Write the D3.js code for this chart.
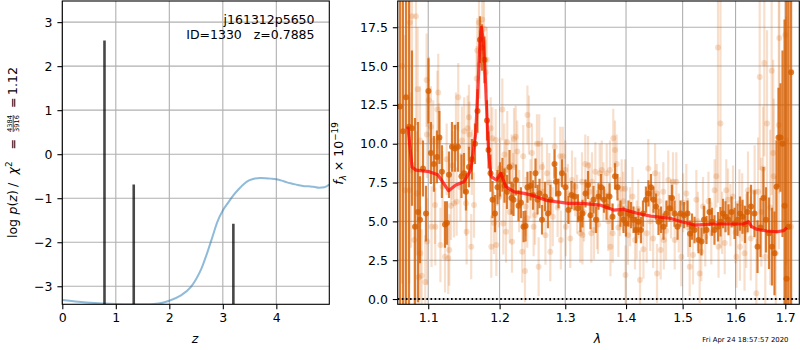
<!DOCTYPE html>
<html>
<head>
<meta charset="utf-8">
<script src="https://cdn.jsdelivr.net/npm/d3@7"></script>
<style>
  body { margin: 0; background: #fff; }
  svg { display: block; }
  text { font-family: "DejaVu Sans", sans-serif; }
</style>
</head>
<body>
<svg id="chart" width="800" height="350"></svg>
<script>
// ---------- redshift probability panel ----------
const zGrid = [0, 0.3, 0.6, 0.9, 1.2, 1.5, 1.8, 2.0, 2.2, 2.4, 2.5, 2.6, 2.7, 2.8, 2.9, 3.0, 3.1, 3.2, 3.3, 3.4, 3.5, 3.6, 3.7, 3.8, 3.9, 4.0, 4.1, 4.2, 4.3, 4.4, 4.5, 4.6, 4.7, 4.8, 4.9, 4.99];
const logPz = [-3.31, -3.35, -3.38, -3.40, -3.41, -3.41, -3.39, -3.33, -3.22, -3.02, -2.84, -2.60, -2.27, -1.90, -1.53, -1.28, -1.10, -0.93, -0.79, -0.67, -0.59, -0.55, -0.54, -0.545, -0.555, -0.57, -0.60, -0.64, -0.67, -0.70, -0.72, -0.73, -0.74, -0.76, -0.75, -0.69];
const peakZ = [0.7885, 1.335, 3.197];
const peakTop = [2.58, -0.69, -1.58];
const leftXTicks = [0, 1, 2, 3, 4];
const leftYTicks = [-3, -2, -1, 0, 1, 2, 3];

// ---------- spectrum panel ----------
// binned (drizzled) spectrum
const darkWave = [1.0627, 1.0666, 1.0706, 1.0745, 1.0784, 1.0824, 1.0863, 1.0890, 1.0930, 1.0970,
  1.1003, 1.1036, 1.1077, 1.1117, 1.1151, 1.1185, 1.1227, 1.1254, 1.1282, 1.1323,
  1.1364, 1.1406, 1.1455, 1.1490, 1.1518, 1.1560, 1.1602, 1.1645, 1.1681, 1.1716,
  1.1745, 1.1781, 1.1817, 1.1839, 1.1868, 1.1897, 1.1933, 1.1969, 1.2006, 1.2042,
  1.2072, 1.2109, 1.2146, 1.2175, 1.2205, 1.2242, 1.2280, 1.2317, 1.2355, 1.2385,
  1.2415, 1.2461, 1.2499, 1.2537, 1.2568, 1.2598, 1.2637, 1.2683, 1.2729, 1.2768,
  1.2831, 1.2854, 1.2894, 1.2948, 1.3003, 1.3051, 1.3099, 1.3147, 1.3203, 1.3244,
  1.3276, 1.3325, 1.3366, 1.3406, 1.3455, 1.3497, 1.3538, 1.3580, 1.3629, 1.3671,
  1.3721, 1.3771, 1.3813, 1.3855, 1.3906, 1.3957, 1.3999, 1.4042, 1.4085, 1.4128,
  1.4171, 1.4214, 1.4257, 1.4292, 1.4344, 1.4388, 1.4432, 1.4476, 1.4521, 1.4565,
  1.4610, 1.4654, 1.4708, 1.4762, 1.4807, 1.4853, 1.4907, 1.4961, 1.5025, 1.5089,
  1.5135, 1.5172, 1.5219, 1.5293, 1.5349, 1.5396, 1.5443, 1.5500, 1.5547, 1.5594,
  1.5661, 1.5709, 1.5757, 1.5805, 1.5863, 1.5922, 1.5980, 1.6038, 1.6087, 1.6136,
  1.6185, 1.6235, 1.6304, 1.6374, 1.6434, 1.6494, 1.6554, 1.6605, 1.6666, 1.6727,
  1.6778, 1.6819, 1.6860, 1.6901, 1.6943, 1.6985, 1.7027, 1.7069, 1.7121];
const darkFlux = [12.4, 10.8, 13.0, 11.1, 11.0, 4.66, 5.6, 5.1, 8.4, 5.5,
  13.4, 9.4, 8.7, 9.15, 10.4, 8.2, 4.8, 4.9, 8.0, 9.8,
  9.7, 9.8, 7.9, 8.1, 6.9, 8.5, 9.0, 10.0, 12.1, 16.7,
  16.2, 15.4, 11.5, 9.6, 8.1, 6.4, 5.5, 7.2, 7.7, 8.0,
  7.3, 6.9, 8.5, 6.5, 6.4, 7.66, 6.0, 6.2, 4.66, 4.7,
  7.2, 7.3, 6.7, 8.1, 6.4, 6.8, 5.1, 6.6, 5.5, 6.4,
  8.7, 7.55, 6.8, 8.1, 7.2, 5.73, 6.7, 6.6, 5.84, 5.2,
  5.5, 6.8, 7.34, 5.4, 6.4, 5.1, 6.6, 7.2, 6.4, 5.95,
  6.6, 5.3, 7.9, 7.2, 5.5, 5.1, 4.87, 5.5, 5.4, 5.1,
  4.44, 4.98, 4.44, 5.5, 6.4, 6.8, 7.2, 6.4, 5.95, 4.98,
  5.1, 4.66, 5.5, 5.84, 6.5, 5.5, 4.66, 5.5, 5.4, 5.5,
  4.2, 4.66, 4.44, 3.8, 3.7, 5.1, 4.44, 5.6, 4.98, 4.44,
  4.66, 4.98, 5.5, 5.3, 5.1, 5.6, 4.87, 5.1, 5.5, 5.3,
  4.8, 5.6, 5.95, 5.5, 3.37, 4.6, 6.5, 5.1, 4.23, 3.37,
  2.94, 7.23, 10.4, 10.4, 10.0, 6.0, 1.3, 4.66, 14.6];
const darkErr = [14, 11.5, 13.5, 11.5, 5.0, 7.0, 5.8, 2.8, 1.8, 1.8,
  2.1, 2.0, 1.8, 1.7, 1.7, 1.7, 1.5, 1.4, 1.5, 1.6,
  1.5, 1.6, 1.4, 1.3, 1.2, 1.3, 1.3, 1.3, 1.4, 1.5,
  1.5, 1.5, 1.3, 1.2, 1.2, 1.2, 1.2, 1.1, 1.1, 1.1,
  1.1, 1.1, 1.1, 1.05, 1.05, 1.0, 1.0, 1.0, 1.0, 1.0,
  1.0, 0.95, 0.95, 0.95, 0.95, 0.95, 0.95, 0.95, 0.95, 0.95,
  0.95, 0.95, 0.95, 0.9, 0.9, 0.9, 0.9, 0.9, 0.9, 0.9,
  0.9, 0.9, 0.9, 0.9, 0.9, 0.85, 0.85, 0.85, 0.85, 0.85,
  0.85, 0.85, 0.85, 0.85, 0.85, 0.85, 0.85, 0.85, 0.85, 0.85,
  0.85, 0.85, 0.85, 0.85, 0.85, 0.85, 0.85, 0.85, 0.85, 0.85,
  0.85, 0.85, 0.85, 0.85, 0.85, 0.85, 0.85, 0.85, 0.85, 0.85,
  0.85, 0.85, 0.85, 0.85, 0.9, 0.9, 0.9, 0.9, 0.9, 0.95,
  0.95, 0.95, 0.95, 1.0, 1.0, 1.0, 1.0, 1.05, 1.1, 1.1,
  1.2, 1.3, 1.4, 1.5, 1.7, 1.9, 2.0, 2.1, 2.3, 2.5,
  2.7, 3.0, 3.2, 3.5, 6.0, 12.0, 20.0, 15.0, 20.0];

// individual exposures
const lightWave = [1.0653, 1.0692, 1.0749, 1.0758, 1.0771, 1.0784, 1.0814, 1.0837, 1.0846, 1.0859,
  1.0873, 1.0890, 1.0894, 1.0912, 1.0960, 1.0978, 1.0986, 1.0982, 1.1008, 1.1036,
  1.1045, 1.1067, 1.1091, 1.1095, 1.1124, 1.1135, 1.1148, 1.1165, 1.1194, 1.1227,
  1.1272, 1.1286, 1.1309, 1.1350, 1.1378, 1.1387, 1.1410, 1.1462, 1.1494, 1.1518,
  1.1527, 1.1541, 1.1560, 1.1567, 1.1592, 1.1631, 1.1669, 1.1678, 1.1702, 1.1709,
  1.1749, 1.1773, 1.1798, 1.1813, 1.1870, 1.1879, 1.1894, 1.1918, 1.1943, 1.1952,
  1.1967, 1.2006, 1.2040, 1.2054, 1.2089, 1.2094, 1.2113, 1.2178, 1.2183, 1.2213,
  1.2238, 1.2261, 1.2336, 1.2351, 1.2377, 1.2387, 1.2411, 1.2414, 1.2437, 1.2483,
  1.2508, 1.2559, 1.2585, 1.2594, 1.2637, 1.2714, 1.2765, 1.2803, 1.2834, 1.2922,
  1.2930, 1.2960, 1.3001, 1.3009, 1.3107, 1.3160, 1.3241, 1.3268, 1.3276, 1.3321,
  1.3366, 1.3420, 1.3431, 1.3464, 1.3486, 1.3514, 1.3558, 1.3591, 1.3674, 1.3729,
  1.3737, 1.3774, 1.3784, 1.3813, 1.3841, 1.3897, 1.3926, 1.3982, 1.3991, 1.4068,
  1.4154, 1.4183, 1.4240, 1.4357, 1.4385, 1.4504, 1.4534, 1.4539, 1.4604, 1.4651,
  1.4660, 1.4740, 1.4825, 1.4856, 1.4885, 1.4976, 1.5068, 1.5130, 1.5191, 1.5253,
  1.5315, 1.5345, 1.5377, 1.5533, 1.5597, 1.5630, 1.5661, 1.5671, 1.5709, 1.5820,
  1.5853, 1.5951, 1.6017, 1.6076, 1.6086, 1.6176, 1.6244, 1.6377, 1.6411, 1.6446,
  1.6478, 1.6547, 1.6571, 1.6590, 1.6625, 1.6720, 1.6751, 1.6761, 1.6804, 1.6866,
  1.6877, 1.7001, 1.7017, 1.7119,
  1.1250, 1.1330, 1.1440, 1.1600, 1.1990, 1.2070, 1.2150, 1.2200, 1.2290, 1.2460,
  1.2530, 1.2650, 1.2690, 1.2750, 1.2880, 1.3040, 1.3080, 1.3190, 1.3300, 1.3390,
  1.3530, 1.3620, 1.3700, 1.3870, 1.3950, 1.4030, 1.4110, 1.4210, 1.4300, 1.4420,
  1.4470, 1.4580, 1.4700, 1.4790, 1.4930, 1.5010, 1.5100, 1.5280, 1.5420, 1.5480,
  1.5740, 1.5790, 1.5900, 1.6000, 1.6130, 1.6210, 1.6300, 1.6510, 1.6690];
const lightFlux = [15.0, 7.0, 7.0, 17.8, 8.3, 18.2, 3.8, 18.2, 6.8, 13.5,
  1.4, 10.2, 2.94, 1.5, 1.1, 14.1, 3.7, 10.6, 12.8, 11.1,
  4.66, 10.2, 6.05, 4.66, 12.2, 13.3, 10.2, 3.48, 7.23, 2.72,
  2.62, 3.16, 6.0, 6.16, 11.1, 6.27, 13.0, 10.2, 10.8, 6.16,
  4.33, 11.0, 11.7, 10.6, 3.37, 6.05, 14.2, 16.0, 17.8, 15.1,
  18.0, 17.4, 14.6, 15.4, 11.0, 3.37, 10.35, 4.9, 10.24, 3.48,
  8.0, 8.4, 12.2, 4.87, 8.3, 4.33, 10.1, 8.6, 3.69, 10.3,
  10.45, 9.5, 3.05, 9.2, 1.8, 5.95, 5.2, 11.85, 11.2, 9.4,
  4.66, 10.0, 2.08, 10.0, 8.5, 8.1, 3.05, 5.3, 9.8, 9.2,
  3.8, 9.2, 8.3, 4.66, 7.66, 7.23, 4.23, 7.55, 4.12, 8.7,
  8.6, 4.23, 7.55, 4.44, 8.2, 5.1, 8.1, 8.3, 8.1, 8.3,
  3.37, 4.23, 10.35, 9.6, 8.7, 5.95, 7.1, 7.1, 1.55, 5.3,
  3.8, 4.44, 1.22, 4.23, 8.4, 8.1, 6.8, 1.65, 3.16, 6.9,
  3.8, 7.66, 7.55, 3.8, 7.55, 2.72, 6.8, 2.08, 2.83, 6.4,
  1.65, 3.05, 5.95, 4.23, 7.0, 7.9, 16.2, 3.37, 11.3, 7.0,
  6.4, 6.6, 2.72, 6.16, 3.37, 2.94, 7.0, 6.9, 0.37, 6.9,
  14.3, 8.4, 15.2, 2.72, 11.3, 14.7, 9.4, 7.9, 2.94, 11.2,
  16.8, 17.0, 10.2, 4.66,
  9.0, 8.6, 7.2, 8.8, 6.6, 9.3, 5.6, 7.4, 6.3, 7.1,
  5.4, 6.9, 4.1, 7.5, 5.9, 6.8, 3.9, 6.1, 5.6, 6.9,
  4.8, 6.9, 5.0, 4.6, 6.3, 4.1, 6.6, 5.8, 3.2, 5.0,
  3.9, 6.3, 4.4, 5.8, 4.9, 6.2, 4.6, 5.0, 4.0, 6.3,
  4.9, 3.6, 5.4, 4.3, 5.9, 4.4, 3.9, 5.6, 5.9];
const lightErr = [14, 10, 6, 8, 5, 8, 5, 7, 4, 4,
  3.5, 3.5, 3, 3, 3, 3, 2.8, 2.8, 2.8, 2.6,
  2.6, 2.6, 2.5, 2.5, 2.5, 2.5, 2.4, 2.4, 2.3, 2.3,
  2.3, 2.3, 2.2, 2.2, 2.2, 2.2, 2.2, 2.2, 2.2, 2.1,
  2.1, 2.1, 2.1, 2.1, 2.1, 2.1, 2.1, 2.1, 2.2, 2.2,
  2.2, 2.2, 2.1, 2.1, 2.0, 2.0, 2.0, 2.0, 2.0, 2.0,
  2.0, 2.0, 2.0, 2.0, 2.0, 2.0, 2.0, 2.0, 2.0, 2.0,
  2.0, 2.0, 2.0, 2.0, 2.0, 1.9, 1.9, 1.9, 1.9, 1.9,
  1.9, 1.9, 1.9, 1.9, 1.9, 1.9, 1.9, 1.9, 1.9, 1.9,
  1.9, 1.9, 1.9, 1.9, 1.9, 1.9, 1.9, 1.9, 1.9, 1.9,
  1.9, 1.9, 1.9, 1.9, 1.9, 1.9, 1.9, 1.9, 1.9, 1.9,
  1.9, 1.9, 1.9, 1.9, 1.9, 1.9, 1.9, 1.9, 1.9, 1.9,
  1.9, 1.9, 1.9, 1.9, 1.9, 1.9, 1.9, 1.9, 1.9, 1.9,
  1.9, 1.9, 1.9, 1.9, 1.9, 1.9, 1.9, 1.9, 1.9, 1.9,
  1.9, 1.9, 1.9, 2.0, 2.0, 2.0, 10, 2.0, 8, 2.0,
  2.0, 2.0, 2.0, 2.2, 2.2, 2.4, 2.5, 3, 3.5, 3.5,
  6, 4, 6, 4, 6, 8, 6, 5, 5, 8,
  10, 12, 8, 10,
  2.3, 2.2, 2.2, 2.1, 2.0, 2.0, 2.0, 2.0, 2.0, 1.9,
  1.9, 1.9, 1.9, 1.9, 1.9, 1.9, 1.9, 1.9, 1.9, 1.9,
  1.9, 1.9, 1.9, 1.9, 1.9, 1.9, 1.9, 1.9, 1.9, 1.9,
  1.9, 1.9, 1.9, 1.9, 1.9, 1.9, 1.9, 1.9, 1.9, 1.9,
  2.0, 2.0, 2.0, 2.0, 2.2, 2.4, 2.7, 3.5, 5];

// best-fit model
const modelWave = [1.0731, 1.0784, 1.0837, 1.1014, 1.1128, 1.1194, 1.1277, 1.1377, 1.1490, 1.1584,
  1.1656, 1.1690, 1.1718, 1.1737, 1.1767, 1.1792, 1.1817, 1.1841, 1.1875, 1.1950,
  1.2018, 1.2092, 1.2217, 1.2363, 1.2500, 1.2689, 1.2847, 1.3056, 1.3271, 1.3565,
  1.3788, 1.3958, 1.4189, 1.4426, 1.4771, 1.4981, 1.5232, 1.5548, 1.5877, 1.6150,
  1.6251, 1.6317, 1.6418, 1.6622, 1.6828, 1.6969, 1.7034];
const modelFlux = [11.1, 8.5, 8.3, 8.2, 8.0, 7.55, 6.97, 7.34, 7.55, 8.3,
  10.67, 13.9, 16.7, 17.5, 16.5, 14.3, 11.7, 9.4, 7.9, 7.66,
  8.1, 7.23, 6.9, 6.8, 6.67, 6.37, 6.27, 6.16, 6.16, 6.05,
  5.73, 5.77, 5.52, 5.34, 5.2, 4.98, 4.76, 4.83, 4.83, 4.83,
  4.98, 4.66, 4.49, 4.38, 4.33, 4.4, 4.6];

const rightXTicks = [1.1, 1.2, 1.3, 1.4, 1.5, 1.6, 1.7];
const rightYTicks = [0, 2.5, 5, 7.5, 10, 12.5, 15, 17.5];

// ---------- drawing ----------
const svg = d3.select('#chart');
const FONT = 12.5;
const GRID = '#b0b0b0';
const G141 = '#d55e00';

const L = { x0: 62.3, x1: 329.3, y0: 1, y1: 304.3 };
const R = { x0: 397.7, x1: 799.3, y0: 1, y1: 304.3 };

const xL = d3.scaleLinear().domain([0, 4.99]).range([L.x0, L.x1]);
const yL = d3.scaleLinear().domain([-3.41, 3.48]).range([L.y1, L.y0]);
const xR = d3.scaleLog().domain([1.0598, 1.7293]).range([R.x0, R.x1]);
const yR = d3.scaleLinear().domain([-0.34, 19.19]).range([R.y1, R.y0]);

const defs = svg.append('defs');
function clip(id, box) {
  defs.append('clipPath').attr('id', id).append('rect')
    .attr('x', box.x0).attr('y', box.y0)
    .attr('width', box.x1 - box.x0).attr('height', box.y1 - box.y0);
}
clip('clipL', L);
clip('clipR', R);

function grid(box, xs, ys, xTicks, yTicks) {
  const g = svg.append('g').attr('stroke', GRID).attr('stroke-width', 1.1);
  xTicks.forEach(t => g.append('line').attr('x1', xs(t)).attr('x2', xs(t)).attr('y1', box.y0).attr('y2', box.y1));
  yTicks.forEach(t => g.append('line').attr('y1', ys(t)).attr('y2', ys(t)).attr('x1', box.x0).attr('x2', box.x1));
}

function axes(box, xs, ys, xTicks, yTicks, xFmt, yFmt) {
  const gx = svg.append('g').attr('transform', `translate(0,${box.y1})`)
    .call(d3.axisBottom(xs).tickValues(xTicks).tickFormat(xFmt).tickSize(4.9).tickPadding(4.2));
  const gy = svg.append('g').attr('transform', `translate(${box.x0},0)`)
    .call(d3.axisLeft(ys).tickValues(yTicks).tickFormat(yFmt).tickSize(4.9).tickPadding(4.9));
  [gx, gy].forEach(g => {
    g.select('.domain').remove();
    g.attr('font-family', null).attr('font-size', null);
    g.selectAll('line').attr('stroke', '#000').attr('stroke-width', 1.1);
    g.selectAll('text').attr('fill', '#000').style('font-size', FONT + 'px');
  });
  svg.append('rect').attr('x', box.x0).attr('y', box.y0)
    .attr('width', box.x1 - box.x0).attr('height', box.y1 - box.y0)
    .attr('fill', 'none').attr('stroke', '#000').attr('stroke-width', 1.1);
}

// left panel
grid(L, xL, yL, leftXTicks, leftYTicks);
const gL = svg.append('g').attr('clip-path', 'url(#clipL)');
gL.append('path')
  .datum(zGrid.map((z, i) => [z, logPz[i]]))
  .attr('d', d3.line().x(d => xL(d[0])).y(d => yL(d[1])).curve(d3.curveMonotoneX))
  .attr('fill', 'none').attr('stroke', '#1f77b4').attr('stroke-opacity', 0.5).attr('stroke-width', 2);
peakZ.forEach((z, i) => {
  gL.append('line').attr('x1', xL(z)).attr('x2', xL(z))
    .attr('y1', L.y1).attr('y2', yL(peakTop[i]))
    .attr('stroke', '#000').attr('stroke-opacity', 0.72).attr('stroke-width', 2.6);
});
axes(L, xL, yL, leftXTicks, leftYTicks, d3.format('d'), d3.format('d'));

svg.append('text').attr('x', 314.5).attr('y', 24).attr('text-anchor', 'end')
  .style('font-size', FONT + 'px').text('j161312p5650');
svg.append('text').attr('x', 314.5).attr('y', 39).attr('text-anchor', 'end')
  .style('font-size', FONT + 'px').style('white-space', 'pre').text('ID=1330   z=0.7885');

svg.append('text').attr('x', 195).attr('y', 343).attr('text-anchor', 'middle')
  .style('font-size', FONT + 'px').style('font-style', 'italic').text('z');

// left y label: log p(z) / chi^2 = 4384/3916 = 1.12
const yLab = svg.append('g').attr('transform', 'translate(17,0) rotate(-90)')
  .style('font-size', FONT + 'px');
yLab.append('text').attr('x', -238).text('log');
const pz = yLab.append('text').attr('x', -214.5);
pz.append('tspan').style('font-style', 'italic').text('p');
pz.append('tspan').text('(');
pz.append('tspan').style('font-style', 'italic').text('z');
pz.append('tspan').text(')');
yLab.append('text').attr('x', -187).text('/');
const chi = yLab.append('text').attr('x', -174.5);
chi.append('tspan').style('font-style', 'italic').text('χ');
chi.append('tspan').attr('dy', -5).style('font-size', '8.8px').text('2');
yLab.append('text').attr('x', -149.5).text('=');
yLab.append('text').attr('x', -123.5).attr('y', -5.3).attr('text-anchor', 'middle').style('font-size', '6.6px').text('4384');
yLab.append('line').attr('x1', -132).attr('x2', -115).attr('y1', -3.8).attr('y2', -3.8).attr('stroke', '#000').attr('stroke-width', 0.7);
yLab.append('text').attr('x', -123.5).attr('y', 1.6).attr('text-anchor', 'middle').style('font-size', '6.6px').text('3916');
yLab.append('text').attr('x', -108).text('=');
yLab.append('text').attr('x', -95).text('1.12');

// right panel
grid(R, xR, yR, rightXTicks, rightYTicks);
const gR = svg.append('g').attr('clip-path', 'url(#clipR)');

function errorbars(waves, fluxes, errs, opacity) {
  const g = gR.append('g');
  waves.forEach((w, i) => {
    g.append('line').attr('x1', xR(w)).attr('x2', xR(w))
      .attr('y1', yR(fluxes[i] - errs[i])).attr('y2', yR(fluxes[i] + errs[i]))
      .attr('stroke', G141).attr('stroke-opacity', opacity).attr('stroke-width', 2.2);
  });
  waves.forEach((w, i) => {
    g.append('circle').attr('cx', xR(w)).attr('cy', yR(fluxes[i])).attr('r', 3)
      .attr('fill', G141).attr('fill-opacity', opacity);
  });
}
errorbars(lightWave, lightFlux, lightErr, 0.2);
errorbars(darkWave, darkFlux, darkErr, 0.8);

gR.append('path')
  .datum(modelWave.map((w, i) => [w, modelFlux[i]]))
  .attr('d', d3.line().x(d => xR(d[0])).y(d => yR(d[1])))
  .attr('fill', 'none').attr('stroke', '#ff0000').attr('stroke-opacity', 0.7)
  .attr('stroke-width', 3.2).attr('stroke-linejoin', 'round');

gR.append('line').attr('x1', R.x0).attr('x2', R.x1).attr('y1', yR(0)).attr('y2', yR(0))
  .attr('stroke', '#000').attr('stroke-width', 1.9).attr('stroke-dasharray', '1.6,2.5');

axes(R, xR, yR, rightXTicks, rightYTicks, d3.format('.1f'), d3.format('.1f'));

svg.append('text').attr('x', 597.5).attr('y', 343).attr('text-anchor', 'middle')
  .style('font-size', FONT + 'px').style('font-style', 'italic').text('λ');

const fLab = svg.append('text').attr('transform', 'translate(342.5,153.5) rotate(-90)')
  .attr('text-anchor', 'middle').style('font-size', FONT + 'px');
fLab.append('tspan').style('font-style', 'italic').text('f');
fLab.append('tspan').attr('dy', 3).style('font-size', '8.8px').style('font-style', 'italic').text('λ');
fLab.append('tspan').attr('dy', -3).text(' × 10');
fLab.append('tspan').attr('dy', -5).style('font-size', '8.8px').text('−19');

svg.append('text').attr('x', 788.5).attr('y', 341.5).attr('text-anchor', 'end')
  .style('font-size', '6.9px').text('Fri Apr 24 18:57:57 2020');
</script>
</body>
</html>
